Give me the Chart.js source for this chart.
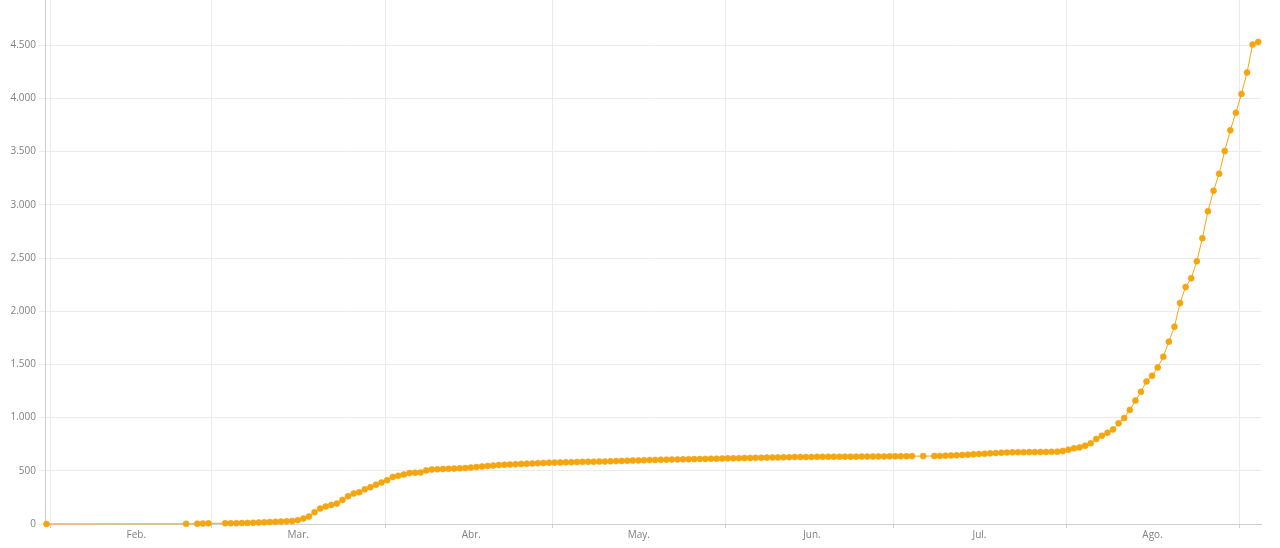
<!DOCTYPE html>
<html>
<head>
<meta charset="utf-8">
<script src="https://cdn.jsdelivr.net/npm/chart.js@4/dist/chart.umd.min.js"></script>
<style>
  html, body { margin: 0; padding: 0; background: #ffffff; }
  #wrap { width: 1280px; height: 548px; }
</style>
</head>
<body>
<div id="wrap"><canvas id="c" width="1280" height="548"></canvas></div>
<script>
// ---- DATA ----
// First day of the series; values[i] is the cumulative count on startDate + i days (null = no report)
const startDate = '2020-01-31';
const values = [
  1,
  null,null,null,null,null,null,null,null,null,null,null,null,null,null,null,null,null,null,null,null,null,null,null,null,
  2, null, 3, 4, 6, null, null,
  7, 7, 8, 9, 10, 12, 14, 16, 18, 20, 23, 26, 28, 36,
  52, 70, 110, 145, 164, 179, 192, 226, 260, 286, 298, 326, 346, 369, 390, 412, 442, 453, 465, 479,
  482, 485, 504, 512, 515, 517, 519, 521, 524, 526, 530, 535, 540, 545, 549, 554, 557, 560, 562, 565,
  567, 569, 572, 574, 576, 577, 579, 580, 581, 583, 584, 585, 586, 587, 588, 589, 591, 593, 594, 596,
  598, 599, 601, 602, 604, 605, 606, 607, 608, 609, 610, 611, 612, 613, 614, 615, 617, 618, 619, 620,
  621, 622, 623, 624, 625, 626, 627, 628, 629, 629, 630, 630, 631, 631, 632, 632, 632, 633, 633, 633,
  634, 634, 634, 635, 635, 636, 636, 637, 637, 638, null, 638, null, 639, 640, 642, 644, 646, 649, 652,
  655, 658, 661, 664, 667, 670, 672, 674, 675, 675, 676, 676, 677, 677, 678, 680, 686, 698,
  711, 720, 736, 758, 800, 829, 857, 889, 947, 996, 1072, 1160, 1243, 1340, 1393, 1471, 1572, 1714,
  1855, 2077, 2228, 2309, 2469, 2686, 2940, 3132, 3292, 3505, 3700, 3866, 4042, 4243, 4506, 4531
];
// Month boundaries (gridlines) and month labels (Spanish)
const monthStarts = ['2020-02-01','2020-03-01','2020-04-01','2020-05-01','2020-06-01','2020-07-01','2020-08-01','2020-09-01'];
const monthLabels = ['Feb.','Mar.','Abr.','May.','Jun.','Jul.','Ago.'];
const yTicks = [0, 500, 1000, 1500, 2000, 2500, 3000, 3500, 4000, 4500];

// ---- helpers ----
const DAY = 86400000;
const t0 = Date.parse(startDate + 'T00:00:00Z');
const dayIndex = s => (Date.parse(s + 'T00:00:00Z') - t0) / DAY;
const REPORT_HOUR_OFFSET = 0.37;   // points are stamped later in the day than the month gridlines
const LABEL_OFFSET_DAYS = 15.45;   // month label sits this many days after its gridline
const fmt = v => String(v).replace(/\B(?=(\d{3})+(?!\d))/g, '.');

const points = [];
values.forEach((v, i) => { if (v !== null) points.push({ x: i, y: v }); });

const gridVals = monthStarts.map(s => dayIndex(s) - REPORT_HOUR_OFFSET);
const labelVals = monthLabels.map((l, k) => gridVals[k] + LABEL_OFFSET_DAYS);
const labelMap = new Map(labelVals.map((v, k) => [v, monthLabels[k]]));
const gridSet = new Set(gridVals);

const ORANGE = '#f5a50e';
const GRID = '#ebebeb';
const AXIS = '#cfcfcf';

Chart.defaults.font.family = "'Open Sans', 'Liberation Sans', sans-serif";
Chart.defaults.font.size = 10;
Chart.defaults.color = '#808080';

new Chart(document.getElementById('c'), {
  type: 'line',
  data: {
    datasets: [{
      data: points,
      borderColor: ORANGE,
      backgroundColor: ORANGE,
      borderWidth: 1,
      pointRadius: 3,
      pointBorderWidth: 0.6,
      pointBackgroundColor: ORANGE,
      pointBorderColor: ORANGE,
      tension: 0,
      spanGaps: true,
      fill: false,
      clip: false
    }]
  },
  options: {
    responsive: false,
    animation: false,
    events: [],
    layout: { autoPadding: false, padding: { left: 0, right: 19, top: 0, bottom: 0 } },
    plugins: { legend: { display: false }, tooltip: { enabled: false } },
    scales: {
      x: {
        type: 'linear',
        min: -0.27,
        max: 217.5,
        afterBuildTicks: s => {
          const all = gridVals.concat(labelVals).sort((a, b) => a - b);
          s.ticks = all.map(v => ({ value: v }));
        },
        afterFit: s => { s.height = 24; s.paddingLeft = 0; s.paddingRight = 0; },
        ticks: {
          autoSkip: false,
          maxRotation: 0,
          minRotation: 0,
          padding: 1,
          callback: v => labelMap.has(v) ? labelMap.get(v) : ''
        },
        grid: {
          color: ctx => (ctx.tick && gridSet.has(ctx.tick.value)) ? GRID : 'rgba(0,0,0,0)',
          tickColor: ctx => (ctx.tick && gridSet.has(ctx.tick.value)) ? AXIS : 'rgba(0,0,0,0)',
          tickLength: 4,
          lineWidth: 1
        },
        border: { color: AXIS, width: 1 }
      },
      y: {
        type: 'linear',
        min: 0,
        max: 4925,
        afterBuildTicks: s => { s.ticks = yTicks.map(v => ({ value: v })); },
        afterFit: s => { s.width = 45; s.paddingTop = 0; s.paddingBottom = 0; },
        ticks: {
          padding: 3,
          callback: v => fmt(v)
        },
        grid: {
          color: GRID,
          tickColor: GRID,
          tickLength: 6,
          lineWidth: 1
        },
        border: { color: AXIS, width: 1 }
      }
    }
  }
});
</script>
</body>
</html>
